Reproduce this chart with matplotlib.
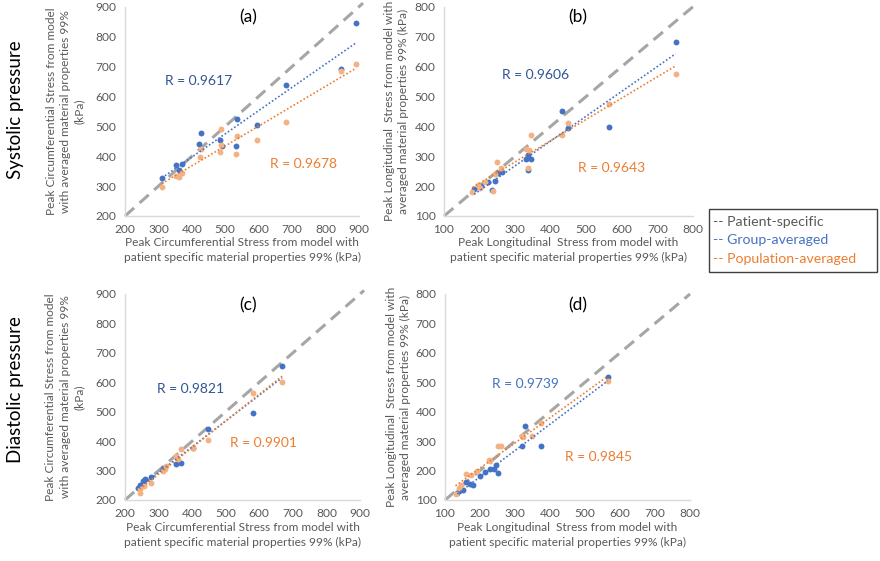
import numpy as np
import matplotlib
matplotlib.use('Agg')
import matplotlib.pyplot as plt
from matplotlib.patches import Rectangle

plt.rcParams['font.family'] = ['Lato', 'DejaVu Sans']

# ---------------- data (kPa) ----------------
# (a) systolic, circumferential
a_grp_x = [890, 845, 681, 534, 596, 426, 422, 484, 489, 532, 352, 370, 361, 310]
a_grp_y = [844, 692, 637, 524, 506, 477, 440, 455, 435, 435, 372, 375, 355, 328]
a_pop_x = [890, 845, 681, 596, 534, 532, 487, 487, 484, 424, 426, 370, 361, 352, 310]
a_pop_y = [707, 685, 515, 453, 466, 408, 491, 438, 413, 396, 424, 344, 331, 333, 297]

# (b) systolic, longitudinal
b_grp_x = [751, 431, 448, 563, 336, 331, 344, 336, 263, 253, 243, 235, 185, 205, 225]
b_grp_y = [683, 451, 393, 397, 303, 290, 292, 253, 246, 243, 217, 187, 190, 200, 215]
b_pop_x = [751, 564, 448, 431, 344, 331, 340, 336, 250, 261, 244, 237, 180, 200, 215, 195]
b_pop_y = [576, 473, 411, 372, 372, 324, 322, 259, 279, 262, 239, 185, 180, 195, 215, 205]

# (c) diastolic, circumferential
c_grp_x = [668, 581, 448, 368, 353, 403, 317, 312, 277, 259, 254, 245, 240]
c_grp_y = [656, 495, 441, 325, 322, 376, 309, 306, 279, 270, 265, 251, 240]
c_pop_x = [668, 581, 448, 368, 353, 358, 403, 322, 319, 314, 277, 256, 246, 244]
c_pop_y = [602, 565, 404, 373, 351, 339, 376, 317, 305, 298, 257, 247, 237, 224]

# (d) diastolic, longitudinal
d_grp_x = [565, 329, 321, 374, 246, 252, 229, 240, 215, 200, 180, 170, 160, 150, 140, 135]
d_grp_y = [518, 352, 284, 284, 220, 193, 204, 205, 195, 180, 150, 155, 160, 135, 130, 125]
d_pop_x = [565, 374, 348, 324, 319, 260, 252, 229, 225, 190, 175, 160, 145, 140, 130]
d_pop_y = [505, 363, 318, 314, 318, 285, 284, 233, 235, 200, 185, 190, 150, 140, 120]

r_values = {
    'a': ('R = 0.9617', 'R = 0.9678'),
    'b': ('R = 0.9606', 'R = 0.9643'),
    'c': ('R = 0.9821', 'R = 0.9901'),
    'd': ('R = 0.9739', 'R = 0.9845'),
}

circ_ticks = [200, 300, 400, 500, 600, 700, 800, 900]
long_ticks = [100, 200, 300, 400, 500, 600, 700, 800]

circ_xlabel = "Peak Circumferential Stress from model with\npatient specific material properties 99% (kPa)"
circ_ylabel = "Peak Circumferential Stress from model\nwith averaged material properties 99%\n(kPa)"
long_xlabel = "Peak Longitudinal  Stress from model with\npatient specific material properties 99% (kPa)"
long_ylabel = "Peak Longitudinal  Stress from model with\naveraged material properties 99% (kPa)"

# ---------------- style ----------------
W, H = 880, 561
blue_pt = '#4472C4'
orange_pt = '#F4B183'
blue_line = '#4472C4'
orange_line = '#ED7D31'
text_gray = '#595959'
axis_gray = '#D9D9D9'
ident_gray = '#A6A6A6'


def fx(px):
    return px / W


def fy(py):
    return 1 - py / H


fig = plt.figure(figsize=(8.8, 5.61), dpi=100)


def panel(rect, gx, gy, px_, py_, ticks, ident_end, xlabel, ylabel,
          xl_y, yl_x):
    ax = fig.add_axes(rect)
    ax.set_xlim(ticks[0], ticks[-1])
    ax.set_ylim(ticks[0], ticks[-1])
    ax.set_xticks(ticks)
    ax.set_yticks(ticks)
    for s in ['top', 'right']:
        ax.spines[s].set_visible(False)
    for s in ['left', 'bottom']:
        ax.spines[s].set_color(axis_gray)
        ax.spines[s].set_linewidth(1.0)
    ax.tick_params(length=0, labelsize=8.6, colors=text_gray, pad=6)

    # patient-specific identity line
    ax.plot([ticks[0], ident_end], [ticks[0], ident_end], color=ident_gray,
            lw=2.2, ls=(0, (4, 2.4)), clip_on=False, zorder=1)

    ax.scatter(gx, gy, s=18, color=blue_pt, zorder=3, linewidths=0)
    ax.scatter(px_, py_, s=18, color=orange_pt, zorder=3, linewidths=0)

    # linear trend lines
    for xs, ys, c in [(gx, gy, blue_line), (px_, py_, orange_line)]:
        xs = np.array(xs, float)
        ys = np.array(ys, float)
        k, b = np.polyfit(xs, ys, 1)
        xx = np.array([xs.min(), xs.max()])
        ax.plot(xx, k * xx + b, color=c, lw=1.2, ls=(0, (1, 1.3)), zorder=4)

    ax.set_xlabel(xlabel, fontsize=8.6, color=text_gray, linespacing=1.35)
    ax.xaxis.set_label_coords(0.5, xl_y)
    ax.xaxis.label.set_va('center')
    ax.set_ylabel(ylabel, fontsize=8.6, color=text_gray, linespacing=1.35)
    ax.yaxis.set_label_coords(yl_x, 0.5)
    ax.yaxis.label.set_va('center')
    return ax


ax_a = panel([fx(125), fy(216), 234 / W, 209.3 / H], a_grp_x, a_grp_y,
             a_pop_x, a_pop_y, circ_ticks, 912, circ_xlabel, circ_ylabel,
             -0.162, -0.255)
ax_b = panel([fx(444), fy(216), 249 / W, 209.3 / H], b_grp_x, b_grp_y,
             b_pop_x, b_pop_y, long_ticks, 800, long_xlabel, long_ylabel,
             -0.162, -0.19)
ax_c = panel([fx(125), fy(500), 235 / W, 206 / H], c_grp_x, c_grp_y,
             c_pop_x, c_pop_y, circ_ticks, 912, circ_xlabel, circ_ylabel,
             -0.17, -0.255)
ax_d = panel([fx(445), fy(500), 245 / W, 206 / H], d_grp_x, d_grp_y,
             d_pop_x, d_pop_y, long_ticks, 800, long_xlabel, long_ylabel,
             -0.17, -0.19)

# panel letters
for lab, x, y in [('(a)', 248, 17), ('(b)', 578, 17), ('(c)', 248, 305), ('(d)', 578, 305)]:
    fig.text(fx(x), fy(y), lab, fontsize=12.5, ha='center', va='center', color='black')

# R annotations
r_pos = {
    'a': ((165, 81, '#2F5597'), (270, 164)),
    'b': ((502, 75, '#2F5597'), (578, 168)),
    'c': ((157, 389, '#2F5597'), (230, 443)),
    'd': ((492, 384, '#4472C4'), (565, 457)),
}
for key, (bp, op) in r_pos.items():
    rb, ro = r_values[key]
    fig.text(fx(bp[0]), fy(bp[1]), rb, fontsize=10, color=bp[2], va='center', ha='left')
    fig.text(fx(op[0]), fy(op[1]), ro, fontsize=10, color=orange_line, va='center', ha='left')

# row labels
fig.text(fx(16), fy(110), 'Systolic pressure', rotation=90, fontsize=13.5,
         ha='center', va='center', color='black')
fig.text(fx(16), fy(390), 'Diastolic pressure', rotation=90, fontsize=13.5,
         ha='center', va='center', color='black')

# legend box (text-style legend)
fig.patches.append(Rectangle((fx(709), fy(272)), 168 / W, 63 / H,
                             transform=fig.transFigure, fill=False,
                             edgecolor='#404040', lw=1.0))
for txt, c, y in [('-- Patient-specific', text_gray, 222),
                  ('-- Group-averaged', blue_line, 240),
                  ('-- Population-averaged', orange_line, 259)]:
    fig.text(fx(713), fy(y), txt, fontsize=10.2, color=c, va='center', ha='left')

fig.savefig('out.png', dpi=100)
